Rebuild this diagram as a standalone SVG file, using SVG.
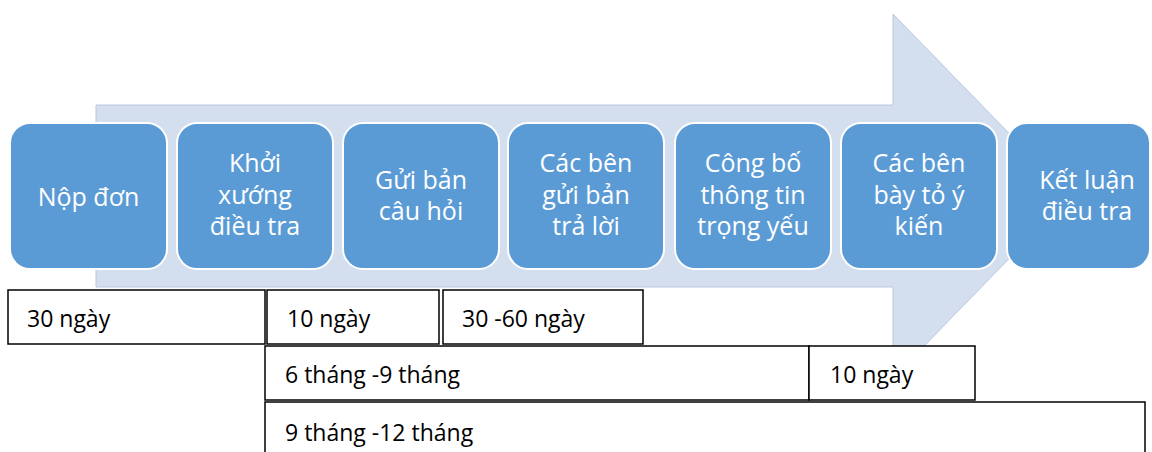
<svg xmlns="http://www.w3.org/2000/svg" width="1152" height="452" viewBox="0 0 1152 452">
<style>
.step{fill:#5B9BD5;stroke:#FFFFFF;stroke-width:2}
.st{font-family:"Open Sans","Noto Sans",sans-serif;font-size:25px;fill:#FFFFFF;text-anchor:middle}
.tl{fill:#FFFFFF;stroke:#000000;stroke-width:1.5}
.tt{font-family:"Open Sans","Noto Sans",sans-serif;font-size:23px;fill:#000000}
</style>
<rect width="1152" height="452" fill="#FFFFFF"/>
<g id="arrow">
<polygon points="96,105 893,105 893,14 1070,196 893,378 893,287 96,287" fill="#D3DEEF" stroke="#BCC8DC" stroke-width="1"/>
</g>
<g id="step1"><rect class="step" x="10" y="123" width="157" height="146" rx="20"/><text class="st" x="88.5" y="206">Nộp đơn</text></g>
<g id="step2"><rect class="step" x="177" y="123" width="156" height="146" rx="20"/><text class="st" x="255" y="172">Khởi</text><text class="st" x="255" y="203.5">xướng</text><text class="st" x="255" y="235">điều tra</text></g>
<g id="step3"><rect class="step" x="343" y="123" width="156" height="146" rx="20"/><text class="st" x="421" y="189">Gửi bản</text><text class="st" x="421" y="220">câu hỏi</text></g>
<g id="step4"><rect class="step" x="508" y="123" width="156" height="146" rx="20"/><text class="st" x="586" y="172">Các bên</text><text class="st" x="586" y="203.5">gửi bản</text><text class="st" x="586" y="235">trả lời</text></g>
<g id="step5"><rect class="step" x="675" y="123" width="156" height="146" rx="20"/><text class="st" x="753" y="172">Công bố</text><text class="st" x="753" y="203.5">thông tin</text><text class="st" x="753" y="235">trọng yếu</text></g>
<g id="step6"><rect class="step" x="841" y="123" width="156" height="146" rx="20"/><text class="st" x="919" y="172">Các bên</text><text class="st" x="919" y="203.5">bày tỏ ý</text><text class="st" x="919" y="235">kiến</text></g>
<g id="step7"><rect class="step" x="1007" y="123" width="143" height="146" rx="20"/><text class="st" x="1087" y="189">Kết luận</text><text class="st" x="1087" y="220">điều tra</text></g>
<g id="connectors"></g>
<g id="t1"><rect class="tl" x="8" y="290" width="257" height="54"/><text class="tt" x="27" y="327">30 ngày</text></g>
<g id="t2"><rect class="tl" x="267" y="290" width="172" height="54"/><text class="tt" x="287" y="327">10 ngày</text></g>
<g id="t3"><rect class="tl" x="443" y="290" width="200" height="54"/><text class="tt" x="462" y="327">30 -60 ngày</text></g>
<g id="t4"><rect class="tl" x="265" y="346" width="544" height="54"/><text class="tt" x="285" y="383">6 tháng -9 tháng</text></g>
<g id="t5"><rect class="tl" x="809" y="346" width="166" height="54"/><text class="tt" x="830" y="383">10 ngày</text></g>
<g id="t6"><rect class="tl" x="265" y="402" width="880" height="60"/><text class="tt" x="285" y="441">9 tháng -12 tháng</text></g>
</svg>
